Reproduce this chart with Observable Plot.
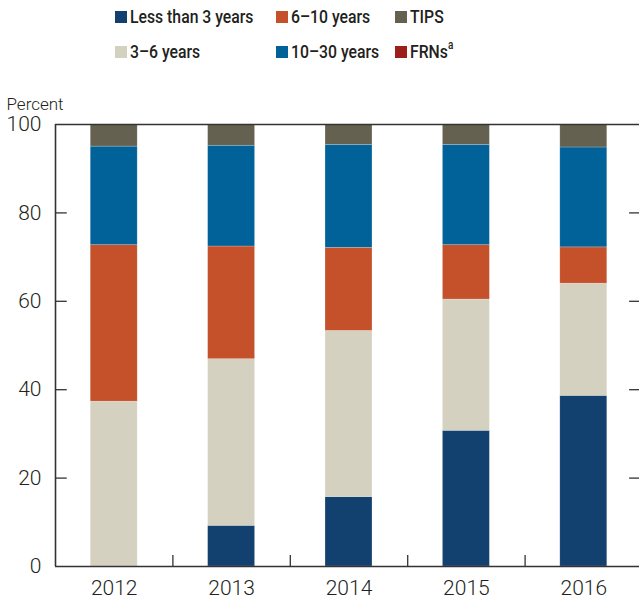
<!DOCTYPE html>
<html><head><meta charset="utf-8">
<script src="https://cdn.jsdelivr.net/npm/d3@7"></script>
<script src="https://cdn.jsdelivr.net/npm/@observablehq/plot@0.6"></script>
<style>
body{margin:0;background:#fff;font-family:Roboto,sans-serif;}
#legend{position:relative;height:95px;width:639px;}
.item{position:absolute;display:flex;align-items:center;font-size:19px;font-weight:500;color:#231f20;white-space:nowrap;line-height:22px;}
.sw{width:12px;height:12px;margin-right:3px;flex:none;}
.lbl{display:inline-block;transform:scaleX(0.83);transform-origin:left center;}
.item sup{font-size:12px;line-height:0;position:relative;top:-2px;}
</style></head><body>
<div id="legend"></div>
<div id="chart"></div>
<script>
const years = [2012, 2013, 2014, 2015, 2016];
const seriesNames = ["Less than 3 years", "3–6 years", "6–10 years", "10–30 years", "FRNs", "TIPS"];
const lessThan3 = [0, 9.2, 15.7, 30.7, 38.6];
const y3to6 = [37.3, 37.7, 37.6, 29.7, 25.4];
const y6to10 = [35.4, 25.5, 18.8, 12.3, 8.2];
const y10to30 = [22.3, 22.8, 23.3, 22.7, 22.6];
const frns = [0, 0, 0, 0, 0];
const tips = [5.0, 4.8, 4.6, 4.6, 5.2];
const colors = ["#12406f", "#d4d1c1", "#c4512a", "#006298", "#9b2019", "#656150"];
const yTicks = [0, 20, 40, 60, 80, 100];
const yLabel = "Percent";

const seriesValues = [lessThan3, y3to6, y6to10, y10to30, frns, tips];
const data = years.flatMap((yr, i) => seriesValues.map((arr, j) => ({year: yr, series: seriesNames[j], value: arr[i]})));

// legend (HTML, above the SVG)
const legendPos = [
  {i: 0, left: 115, top: 6}, {i: 2, left: 276, top: 6}, {i: 5, left: 395, top: 6},
  {i: 1, left: 115, top: 41}, {i: 3, left: 276, top: 41}, {i: 4, left: 395, top: 41}
];
const legend = document.getElementById("legend");
for (const p of legendPos) {
  const d = document.createElement("div");
  d.className = "item";
  d.style.left = p.left + "px";
  d.style.top = p.top + "px";
  const sw = document.createElement("span");
  sw.className = "sw";
  sw.style.background = colors[p.i];
  d.appendChild(sw);
  const t = document.createElement("span");
  t.className = "lbl";
  t.textContent = seriesNames[p.i];
  if (seriesNames[p.i] === "FRNs") {
    const s = document.createElement("sup");
    s.textContent = "a";
    t.appendChild(s);
  }
  d.appendChild(t);
  legend.appendChild(d);
}

const half = 0.2;
const boundaries = years.slice(0, -1).map(y => y + 0.5);
const innerTicks = yTicks.filter(t => t > 0 && t < 100);
const xLo = years[0] - 0.5, xHi = years[years.length - 1] + 0.5;

const chart = Plot.plot({
  width: 639, height: 506,
  marginTop: 29, marginBottom: 35, marginLeft: 55, marginRight: 0,
  style: {fontFamily: "Roboto, sans-serif", fontSize: "21px", fontWeight: 300, color: "#231f20", background: "#fff"},
  x: {type: "linear", domain: [xLo, xHi], range: [55, 642]},
  y: {domain: [0, 100]},
  color: {domain: seriesNames, range: colors},
  marks: [
    Plot.rect(data, Plot.stackY({x: "year", x1: d => d.year - half, x2: d => d.year + half, y: "value", fill: "series", order: seriesNames, stroke: "#ffffff", strokeOpacity: 0.35, strokeWidth: 0.6})),
    Plot.ruleY([0, 100], {stroke: "#333", strokeWidth: 1.6}),
    Plot.ruleX([xLo], {stroke: "#333", strokeWidth: 1.6}),
    Plot.ruleY(innerTicks, {x1: xLo, x2: xLo + 0.1, stroke: "#333", strokeWidth: 1.3}),
    Plot.ruleY(innerTicks, {x1: xHi - 0.11, x2: xHi, stroke: "#333", strokeWidth: 1.3}),
    Plot.ruleX(boundaries, {y1: 0, y2: 2.5, stroke: "#333", strokeWidth: 1.3}),
    Plot.axisY(yTicks, {anchor: "left", tickSize: 0, tickPadding: 14, label: null, fontSize: 21}),
    Plot.axisX(years, {anchor: "bottom", tickSize: 0, tickPadding: 14, tickFormat: d => String(d), label: null, fontSize: 21}),
    Plot.text([yLabel], {frameAnchor: "top-left", text: d => d, dx: -49, dy: -15, lineAnchor: "bottom", textAnchor: "start", fontSize: 17, fontWeight: 300, letterSpacing: "-0.4px"})
  ]
});
document.getElementById("chart").appendChild(chart);
</script>
</body></html>
